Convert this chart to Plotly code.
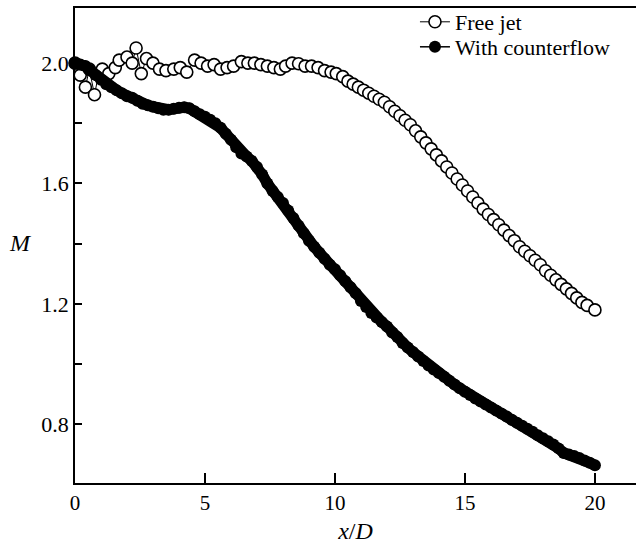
import plotly.graph_objects as go

# Free jet (open circles)
free_x = [0.0, 0.2, 0.4, 0.55, 0.75, 0.9, 1.05, 1.3, 1.55, 1.7, 2.0, 2.2, 2.35, 2.55, 2.75,
          3.0, 3.25, 3.5, 3.8, 4.05, 4.3, 4.6, 4.85, 5.1, 5.35, 5.6, 5.85, 6.1, 6.4,
          6.65, 6.9, 7.15, 7.4, 7.65, 7.9, 8.1, 8.35, 8.6, 8.85, 9.1, 9.35, 9.6, 9.85,
          10.05, 10.3, 10.5, 10.7, 10.9, 11.1, 11.3, 11.5, 11.7, 11.9, 12.1, 12.3, 12.5,
          12.7, 12.9, 13.1, 13.3, 13.5, 13.7, 13.9, 14.1, 14.3, 14.5, 14.7, 14.9, 15.1,
          15.3, 15.5, 15.7, 15.9, 16.1, 16.3, 16.5, 16.7, 16.9, 17.1, 17.3, 17.5, 17.7,
          17.9, 18.1, 18.3, 18.5, 18.7, 18.9, 19.1, 19.3, 19.5, 19.7, 20.0]
free_m = [2.0, 1.96, 1.92, 1.98, 1.895, 1.96, 1.98, 1.965, 1.985, 2.01, 2.02, 2.0, 2.05, 1.965, 2.015,
          2.0, 1.98, 1.975, 1.98, 1.985, 1.97, 2.01, 2.0, 1.99, 1.995, 1.98, 1.985, 1.99, 2.005,
          2.0, 2.0, 1.995, 1.99, 1.985, 1.98, 1.99, 2.0, 1.998, 1.99, 1.99, 1.985, 1.975, 1.97,
          1.965, 1.955, 1.94, 1.93, 1.92, 1.91, 1.9, 1.89, 1.88, 1.87, 1.855, 1.84, 1.825,
          1.81, 1.795, 1.775, 1.755, 1.735, 1.715, 1.695, 1.675, 1.655, 1.635, 1.615, 1.595, 1.575,
          1.555, 1.535, 1.515, 1.497, 1.48, 1.463, 1.445, 1.427, 1.41, 1.39, 1.375, 1.36, 1.345,
          1.33, 1.31, 1.295, 1.28, 1.265, 1.25, 1.235, 1.22, 1.205, 1.195, 1.18]

# With counterflow (filled circles)
cf_x = [0.0, 0.2, 0.4, 0.6, 0.8, 1.0, 1.2, 1.4, 1.6, 1.8, 2.0, 2.2, 2.4, 2.6, 2.8, 3.0, 3.2, 3.4,
        3.6, 3.8, 4.0, 4.2, 4.4, 4.6, 4.8, 5.0, 5.2, 5.4, 5.6, 5.8, 6.0, 6.2, 6.4, 6.6, 6.8, 7.0,
        7.2, 7.4, 7.6, 7.8, 8.0, 8.2, 8.4, 8.6, 8.8, 9.0, 9.2, 9.4, 9.6, 9.8, 10.0, 10.2, 10.4,
        10.6, 10.8, 11.0, 11.2, 11.4, 11.6, 11.8, 12.0, 12.2, 12.4, 12.6, 12.8, 13.0, 13.2, 13.4,
        13.6, 13.8, 14.0, 14.2, 14.4, 14.6, 14.8, 15.0, 15.2, 15.4, 15.6, 15.8, 16.0, 16.2, 16.4,
        16.6, 16.8, 17.0, 17.2, 17.4, 17.6, 17.8, 18.0, 18.2, 18.4, 18.6, 18.8, 19.0, 19.2, 19.4,
        19.6, 19.8, 20.0]
cf_m = [2.0, 1.995, 1.99, 1.975, 1.96, 1.945, 1.93, 1.92, 1.91, 1.9, 1.89, 1.885, 1.875, 1.865,
        1.86, 1.855, 1.85, 1.845, 1.845, 1.848, 1.852, 1.853, 1.85, 1.84, 1.83, 1.822, 1.812, 1.8,
        1.785, 1.765, 1.745, 1.72, 1.7, 1.69, 1.675, 1.655, 1.63, 1.6, 1.575, 1.555, 1.535, 1.51,
        1.485, 1.46, 1.435, 1.41, 1.39, 1.37, 1.35, 1.33, 1.315, 1.295, 1.275, 1.255, 1.235, 1.21,
        1.19, 1.17, 1.155, 1.14, 1.125, 1.105, 1.09, 1.07, 1.055, 1.04, 1.025, 1.01, 0.995, 0.982,
        0.97, 0.958, 0.945, 0.932, 0.92, 0.908, 0.897, 0.886, 0.876, 0.866, 0.856, 0.846, 0.836,
        0.826, 0.815, 0.805, 0.795, 0.785, 0.775, 0.764, 0.754, 0.744, 0.733, 0.72, 0.705, 0.7,
        0.695, 0.688, 0.68, 0.672, 0.664]

x_ticks = [0, 5, 10, 15, 20]
y_ticks = [0.8, 1.2, 1.6, 2.0]
y_tick_text = ["0.8", "1.2", "1.6", "2.0"]
y_minor = [1.0, 1.4, 1.8]

FONT = "Liberation Serif"

fig = go.Figure()
fig.add_trace(go.Scatter(
    x=free_x, y=free_m, name="Free jet", mode="lines+markers",
    line=dict(color="black", width=1),
    marker=dict(symbol="circle", size=12, color="white", line=dict(color="black", width=1.6)),
    cliponaxis=False, legend="legend",
))
# dense band of the counterflow data points (drawn under the markers)
fig.add_trace(go.Scatter(
    x=cf_x, y=cf_m, mode="lines", showlegend=False, hoverinfo="skip",
    line=dict(color="black", width=11), cliponaxis=False,
))
fig.add_trace(go.Scatter(
    x=cf_x, y=cf_m, name="With counterflow", mode="lines+markers",
    line=dict(color="black", width=1.5),
    marker=dict(symbol="circle", size=12, color="black"),
    cliponaxis=False, legend="legend2",
))

legend_common = dict(
    xanchor="left", yanchor="middle",
    bgcolor="rgba(0,0,0,0)", borderwidth=0,
    font=dict(family=FONT, size=22, color="black"),
)
fig.update_layout(
    width=636, height=548,
    margin=dict(l=75, r=0, t=8, b=65),
    paper_bgcolor="white", plot_bgcolor="white",
    font=dict(family=FONT, size=21, color="black"),
    showlegend=True,
    legend=dict(x=0.606, y=1 - (22 - 8) / 475, **legend_common),
    legend2=dict(x=0.606, y=1 - (47 - 8) / 475, **legend_common),
)
fig.update_xaxes(
    range=[0, 21.58], tickvals=x_ticks, ticks="inside", ticklen=10, tickwidth=1.5,
    tickcolor="black", showline=True, linecolor="black", linewidth=1.5, mirror=True,
    showgrid=False, zeroline=False,
    tickfont=dict(family=FONT, size=21),
    title=dict(text="<i>x</i>/<i>D</i>", font=dict(family=FONT, size=24), standoff=8),
)
fig.update_yaxes(
    range=[0.605, 2.183], tickvals=y_ticks, ticktext=y_tick_text, ticks="inside", ticklen=7,
    tickwidth=1.5, tickcolor="black", showline=True, linecolor="black", linewidth=1.5,
    showgrid=False, zeroline=False,
    tickfont=dict(family=FONT, size=22),
    minor=dict(tickvals=y_minor, ticks="inside", ticklen=7, tickwidth=1.5, tickcolor="black"),
)
fig.add_annotation(
    text="<i>M</i>", xref="paper", yref="paper", x=-0.098, y=0.505,
    xanchor="center", yanchor="middle", showarrow=False,
    font=dict(family=FONT, size=24, color="black"),
)

fig.write_html("out.html")
